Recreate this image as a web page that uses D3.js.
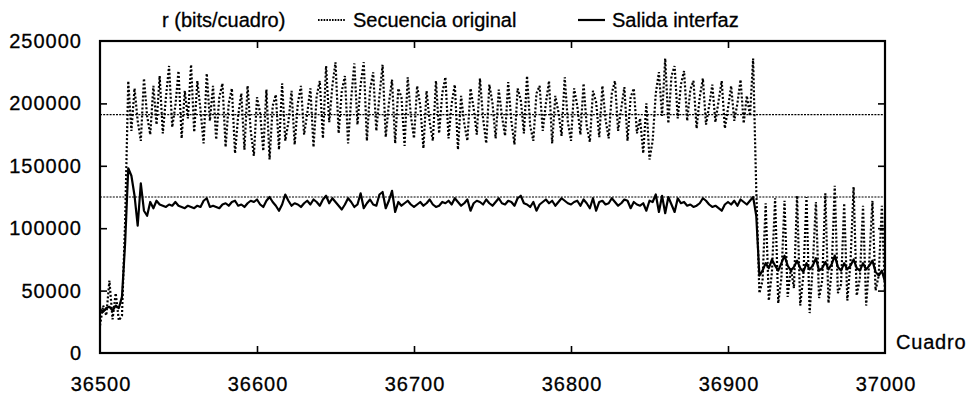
<!DOCTYPE html>
<html>
<head>
<meta charset="utf-8">
<script src="https://cdn.jsdelivr.net/npm/d3@7"></script>
<style>
  body { margin: 0; background: #fff; }
  svg text { font-family: "Liberation Sans", Arial, Helvetica, sans-serif; font-size: 20px; fill: #000; stroke: #000; stroke-width: 0.3px; }
</style>
</head>
<body>
<svg id="chart" width="968" height="397"></svg>
<script>
// frame numbers (every 2nd frame)
const frames = d3.range(36500, 37001, 2);

// bits per frame, original sequence (dotted)
const original = [
  22000, 38000, 30000, 58000, 27000, 48000, 26000, 30000, 105000, 218000,
  178000, 212000, 186000, 170000, 220000, 190000, 175000, 214000, 183000, 222000,
  176000, 205000, 230000, 181000, 198000, 226000, 172000, 210000, 188000, 231000,
  177000, 218000, 195000, 168000, 224000, 186000, 214000, 171000, 205000, 216000,
  165000, 200000, 212000, 160000, 190000, 208000, 163000, 214000, 178000, 158000,
  205000, 192000, 162000, 211000, 155000, 198000, 207000, 163000, 216000, 170000,
  185000, 210000, 167000, 200000, 214000, 175000, 192000, 212000, 165000, 206000,
  218000, 172000, 230000, 185000, 214000, 233000, 176000, 210000, 222000, 168000,
  204000, 232000, 183000, 215000, 233000, 170000, 211000, 225000, 178000, 206000,
  231000, 173000, 200000, 219000, 168000, 212000, 205000, 166000, 221000, 190000,
  172000, 214000, 198000, 164000, 210000, 185000, 170000, 218000, 176000, 208000,
  221000, 172000, 200000, 215000, 163000, 206000, 184000, 170000, 212000, 196000,
  175000, 220000, 188000, 168000, 215000, 200000, 172000, 211000, 190000, 174000,
  217000, 186000, 167000, 212000, 203000, 176000, 222000, 182000, 170000, 208000,
  214000, 178000, 200000, 218000, 168000, 206000, 193000, 174000, 221000, 185000,
  170000, 212000, 198000, 175000, 216000, 182000, 169000, 210000, 201000, 173000,
  214000, 187000, 172000, 208000, 218000, 178000, 196000, 213000, 170000, 205000,
  212000, 176000, 188000, 160000, 200000, 155000, 170000, 208000, 225000, 190000,
  236000, 184000, 222000, 230000, 188000, 215000, 226000, 186000, 211000, 218000,
  180000, 205000, 220000, 183000, 198000, 215000, 185000, 202000, 218000, 180000,
  196000, 214000, 186000, 200000, 219000, 184000, 206000, 190000, 236000, 130000,
  48000, 58000, 120000, 42000, 65000, 124000, 40000, 60000, 122000, 45000,
  68000, 52000, 126000, 38000, 62000, 125000, 32000, 70000, 121000, 44000,
  58000, 128000, 40000, 66000, 134000, 48000, 55000, 120000, 42000, 72000,
  133000, 46000, 60000, 118000, 38000, 74000, 122000, 50000, 62000, 118000,
  48000
];

// bits per frame, interface output (solid)
const output = [
  35000, 33000, 36000, 37000, 34000, 38000, 36000, 45000, 88000, 148000,
  142000, 126000, 102000, 136000, 114000, 110000, 121000, 116000, 122000, 119000,
  118000, 117000, 119000, 118000, 121000, 118000, 117000, 116000, 118000, 117000,
  116000, 118000, 117000, 122000, 124000, 117000, 118000, 117000, 116000, 119000,
  120000, 118000, 121000, 122000, 118000, 119000, 117000, 120000, 122000, 121000,
  123000, 119000, 117000, 122000, 125000, 121000, 118000, 114000, 119000, 127000,
  122000, 118000, 120000, 119000, 117000, 120000, 122000, 119000, 123000, 121000,
  118000, 123000, 126000, 120000, 124000, 121000, 118000, 115000, 119000, 124000,
  121000, 117000, 119000, 128000, 116000, 120000, 123000, 119000, 118000, 127000,
  129000, 116000, 122000, 130000, 113000, 121000, 118000, 120000, 122000, 119000,
  117000, 119000, 121000, 118000, 120000, 123000, 119000, 117000, 118000, 121000,
  120000, 122000, 119000, 124000, 121000, 118000, 120000, 123000, 114000, 120000,
  122000, 121000, 119000, 123000, 120000, 118000, 121000, 124000, 120000, 119000,
  122000, 121000, 118000, 124000, 126000, 120000, 119000, 117000, 121000, 114000,
  119000, 121000, 123000, 120000, 122000, 118000, 121000, 124000, 122000, 120000,
  119000, 121000, 122000, 118000, 123000, 120000, 116000, 124000, 114000, 121000,
  122000, 119000, 120000, 124000, 121000, 118000, 120000, 123000, 122000, 116000,
  121000, 119000, 118000, 120000, 114000, 122000, 121000, 127000, 113000, 126000,
  112000, 125000, 119000, 113000, 124000, 120000, 121000, 118000, 119000, 117000,
  118000, 120000, 124000, 122000, 119000, 117000, 118000, 116000, 114000, 119000,
  121000, 119000, 122000, 118000, 123000, 121000, 119000, 122000, 125000, 110000,
  62000, 66000, 72000, 68000, 75000, 70000, 66000, 72000, 78000, 70000,
  66000, 69000, 74000, 68000, 65000, 72000, 67000, 70000, 76000, 66000,
  68000, 73000, 67000, 71000, 78000, 69000, 66000, 72000, 67000, 70000,
  75000, 68000, 66000, 72000, 67000, 70000, 74000, 65000, 62000, 66000,
  57000
];

// mean levels drawn as thin horizontal lines
const meanLevels = [191000, 125000];

const xTicks = [36500, 36600, 36700, 36800, 36900, 37000];
const yTicks = [0, 50000, 100000, 150000, 200000, 250000];
const legendLabels = ["Secuencia original", "Salida interfaz"];

const margin = { top: 41, right: 83, bottom: 44, left: 100 };
const W = 968, H = 397;
const plotW = W - margin.left - margin.right;
const plotH = H - margin.top - margin.bottom;

const svg = d3.select("#chart");
const g = svg.append("g").attr("transform", `translate(${margin.left},${margin.top})`);

const x = d3.scaleLinear().domain([36500, 37000]).range([0, plotW]);
const y = d3.scaleLinear().domain([0, 250000]).range([plotH, 0]);

svg.append("defs").append("clipPath").attr("id", "clip")
  .append("rect").attr("width", plotW).attr("height", plotH);

// axes: inward ticks on all four sides
const inner = [36600, 36700, 36800, 36900];
const innerY = [50000, 100000, 150000, 200000];

const xb = g.append("g").attr("transform", `translate(0,${plotH})`)
  .call(d3.axisBottom(x).tickValues(xTicks).tickSize(-7).tickPadding(24).tickFormat(d3.format("d")));
const yl = g.append("g")
  .call(d3.axisLeft(y).tickValues(yTicks).tickSize(-7).tickPadding(18).tickFormat(d3.format("d")));
g.append("g").call(d3.axisTop(x).tickValues(inner).tickSize(-7).tickFormat(""));
g.append("g").attr("transform", `translate(${plotW},0)`)
  .call(d3.axisRight(y).tickValues(innerY).tickSize(-7).tickFormat(""));

g.selectAll(".domain").remove();
g.selectAll(".tick line").attr("stroke", "#000").attr("stroke-width", 1.6);
xb.selectAll(".tick").filter(d => d === 36500 || d === 37000).select("line").remove();
yl.selectAll(".tick").filter(d => d === 0 || d === 250000).select("line").remove();
g.selectAll(".tick text").style("font-size", "20px").style("letter-spacing", "1px").attr("fill", "#000");
xb.selectAll(".tick text").attr("dx", "0.5px");

// mean lines
g.selectAll(".mean").data(meanLevels).enter().append("line")
  .attr("class", "mean")
  .attr("x1", 0).attr("x2", plotW)
  .attr("y1", d => y(d)).attr("y2", d => y(d))
  .attr("stroke", "#000").attr("stroke-width", 1.2)
  .attr("stroke-dasharray", "2,1.2");

const line = d3.line().x((d, i) => x(frames[i])).y(d => y(d));

const plot = g.append("g").attr("clip-path", "url(#clip)");
plot.append("path").datum(original)
  .attr("d", line).attr("fill", "none")
  .attr("stroke", "#000").attr("stroke-width", 2.2)
  .attr("stroke-dasharray", "2,2");
plot.append("path").datum(output)
  .attr("d", line).attr("fill", "none")
  .attr("stroke", "#000").attr("stroke-width", 2.2)
  .attr("stroke-linejoin", "round");

// frame
g.append("rect").attr("width", plotW).attr("height", plotH)
  .attr("fill", "none").attr("stroke", "#000").attr("stroke-width", 2.2);

// titles
svg.append("text").attr("x", 162).attr("y", 27).text("r (bits/cuadro)");
svg.append("text").attr("x", 896).attr("y", 349).style("letter-spacing", "0.8px").text("Cuadro");

// legend
const legend = svg.append("g");
legend.append("line").attr("x1", 318).attr("x2", 345).attr("y1", 20).attr("y2", 20)
  .attr("stroke", "#000").attr("stroke-width", 1.8).attr("stroke-dasharray", "1.6,1.2");
legend.append("text").attr("x", 353).attr("y", 27).text(legendLabels[0]);
legend.append("line").attr("x1", 578).attr("x2", 605).attr("y1", 20).attr("y2", 20)
  .attr("stroke", "#000").attr("stroke-width", 2.2);
legend.append("text").attr("x", 612).attr("y", 27).text(legendLabels[1]);
</script>
</body>
</html>
